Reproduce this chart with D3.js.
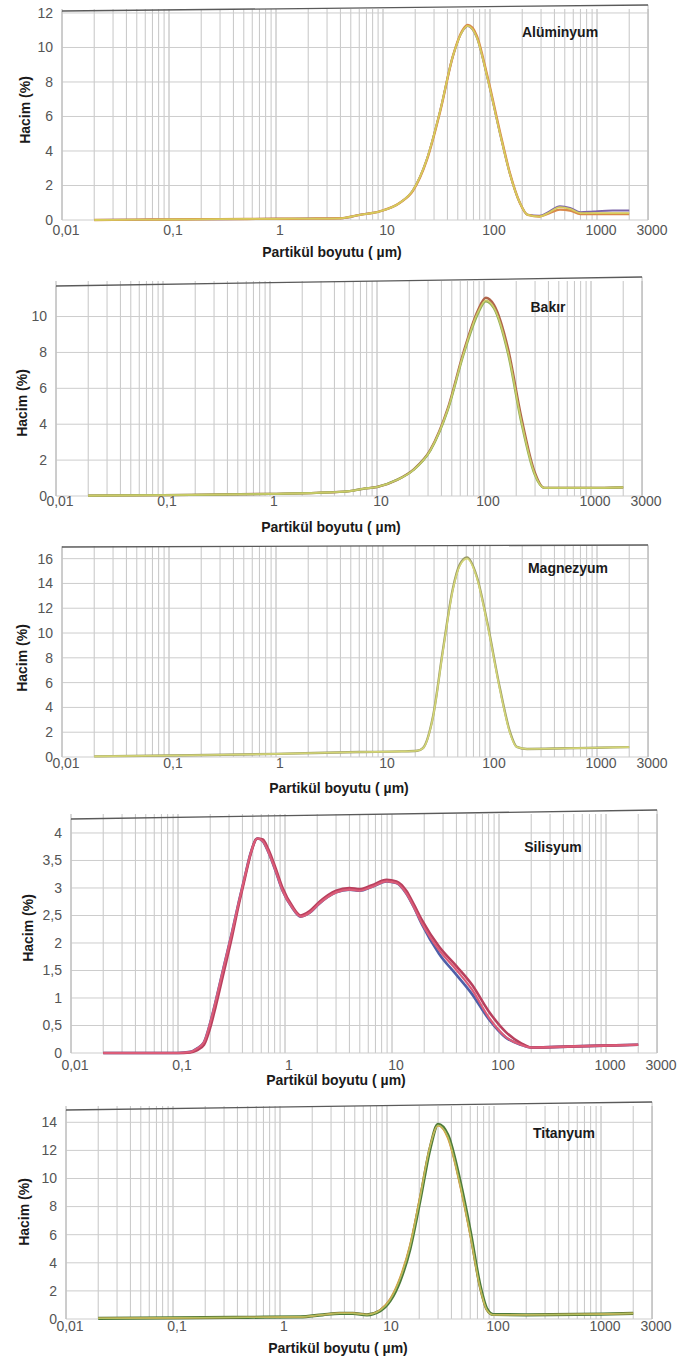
<!DOCTYPE html>
<html>
<head>
<meta charset="utf-8">
<script src="https://cdn.jsdelivr.net/npm/d3@7"></script>
<style>
  body { margin: 0; background: #fff; }
  text { font-family: "Liberation Sans", Arial, sans-serif; }
</style>
</head>
<body>
<svg id="chart" width="677" height="1361"></svg>
<script>
// ---- shared x axis (particle size, µm, log scale) ----
const xTickValues = [0.01, 0.1, 1, 10, 100, 1000, 3000];
const xTickLabels = ["0,01", "0,1", "1", "10", "100", "1000", "3000"];

// ---- Alüminyum ----
const alSizes = [0.02, 0.05, 0.1, 0.3, 1, 2, 4, 6.1, 9.3, 14.4, 19.1, 25.6, 34.4, 45, 56, 62, 75, 94, 124, 153, 190, 225, 290, 360, 450, 560, 700, 930, 1400, 2000];
const alRun1 = [0.0, 0.02, 0.03, 0.05, 0.07, 0.08, 0.1, 0.3, 0.5, 1.0, 1.74, 3.5, 6.4, 9.5, 11.0, 11.25, 10.6, 8.3, 5.0, 2.7, 1.0, 0.3, 0.2, 0.45, 0.75, 0.65, 0.4, 0.4, 0.4, 0.4];
const alRun2 = [0.0, 0.02, 0.03, 0.05, 0.07, 0.08, 0.1, 0.3, 0.5, 1.0, 1.7, 3.45, 6.35, 9.5, 11.05, 11.3, 10.7, 8.4, 5.1, 2.75, 1.0, 0.3, 0.2, 0.4, 0.6, 0.55, 0.35, 0.35, 0.35, 0.35];
const alRun3 = [0.0, 0.02, 0.03, 0.05, 0.07, 0.08, 0.1, 0.3, 0.5, 1.0, 1.74, 3.5, 6.4, 9.5, 11.0, 11.25, 10.6, 8.3, 5.0, 2.7, 1.0, 0.3, 0.25, 0.5, 0.8, 0.7, 0.45, 0.5, 0.55, 0.55];

// ---- Bakır ----
const cuSizes = [0.02, 0.1, 1, 3.6, 6, 7.4, 10, 15.4, 21.9, 31.6, 45.7, 64.6, 87, 104, 124, 168, 223, 295, 367, 500, 1000, 2000];
const cuRun1 = [0.02, 0.05, 0.12, 0.2, 0.3, 0.4, 0.5, 0.9, 1.45, 2.56, 4.8, 7.97, 10.2, 10.9, 10.5, 8.0, 4.2, 1.3, 0.45, 0.45, 0.45, 0.48];
const cuRun2 = [0.02, 0.05, 0.12, 0.2, 0.3, 0.4, 0.5, 0.9, 1.47, 2.58, 4.85, 8.05, 10.3, 11.05, 10.65, 8.2, 4.4, 1.4, 0.45, 0.45, 0.45, 0.48];
const cuRun3 = [0.02, 0.05, 0.12, 0.2, 0.3, 0.4, 0.5, 0.9, 1.45, 2.54, 4.75, 7.9, 10.1, 10.85, 10.45, 7.9, 4.1, 1.25, 0.45, 0.45, 0.45, 0.48];

// ---- Magnezyum ----
const mgSizes = [0.02, 0.1, 1, 6, 15, 20.8, 23.6, 29.3, 36.4, 45, 52, 61, 75, 94, 124, 154, 178, 222, 500, 1000, 2000];
const mgRun1 = [0.05, 0.12, 0.25, 0.4, 0.45, 0.5, 0.7, 3.2, 8.6, 13.5, 15.4, 16.0, 14.5, 10.8, 5.4, 1.9, 0.8, 0.65, 0.7, 0.75, 0.8];
const mgRun2 = [0.05, 0.12, 0.25, 0.4, 0.45, 0.5, 0.72, 3.25, 8.7, 13.6, 15.5, 16.1, 14.6, 10.9, 5.5, 2.0, 0.82, 0.65, 0.7, 0.75, 0.8];

// ---- Silisyum ----
const siSizes = [0.02, 0.05, 0.1, 0.13, 0.15, 0.175, 0.2, 0.226, 0.27, 0.32, 0.37, 0.42, 0.48, 0.55, 0.62, 0.7, 0.82, 0.95, 1.16, 1.4, 1.7, 2.1, 3, 4, 5, 6.5, 8.9, 11, 13.6, 16, 19, 27.6, 40, 56, 80, 116, 160, 200, 500, 2000];
const siRun1 = [0, 0, 0, 0.02, 0.08, 0.2, 0.55, 0.96, 1.6, 2.2, 2.75, 3.2, 3.65, 3.9, 3.85, 3.65, 3.3, 2.95, 2.65, 2.48, 2.55, 2.72, 2.92, 2.97, 2.95, 3.02, 3.12, 3.09, 2.9, 2.65, 2.36, 1.87, 1.51, 1.15, 0.65, 0.29, 0.15, 0.1, 0.12, 0.15];
const siRun2 = [0, 0, 0, 0.01, 0.05, 0.15, 0.46, 0.86, 1.5, 2.12, 2.7, 3.16, 3.63, 3.9, 3.88, 3.7, 3.35, 3.0, 2.68, 2.5, 2.58, 2.75, 2.95, 3.0, 2.98, 3.05, 3.15, 3.12, 2.95, 2.7, 2.42, 1.93, 1.58, 1.24, 0.76, 0.38, 0.18, 0.1, 0.12, 0.15];
const siRun3 = [0, 0, 0, 0.02, 0.08, 0.2, 0.55, 0.96, 1.6, 2.2, 2.75, 3.2, 3.65, 3.9, 3.85, 3.65, 3.3, 2.95, 2.65, 2.48, 2.55, 2.72, 2.92, 2.97, 2.95, 3.02, 3.12, 3.09, 2.9, 2.65, 2.34, 1.8, 1.42, 1.07, 0.62, 0.28, 0.15, 0.1, 0.12, 0.15];

// ---- Titanyum ----
const tiSizes = [0.02, 0.1, 0.5, 1.54, 2.5, 3.6, 4.8, 6.5, 8.6, 10.7, 13.2, 16.4, 20.3, 25.2, 30, 37, 48, 60, 74, 86, 98, 200, 1000, 2000];
const tiRun1 = [0.05, 0.08, 0.12, 0.15, 0.3, 0.4, 0.4, 0.3, 0.6, 1.35, 2.8, 5.1, 8.5, 12.2, 13.8, 13.0, 9.7, 6.1, 2.3, 0.65, 0.3, 0.3, 0.35, 0.4];
const tiRun2 = [0.05, 0.08, 0.12, 0.15, 0.3, 0.42, 0.42, 0.32, 0.65, 1.45, 2.95, 5.3, 8.7, 12.3, 13.75, 12.85, 9.5, 5.9, 2.2, 0.6, 0.3, 0.3, 0.35, 0.4];
const tiRun3 = [0.05, 0.08, 0.12, 0.15, 0.3, 0.4, 0.4, 0.3, 0.58, 1.3, 2.7, 5.0, 8.4, 12.1, 13.85, 13.1, 9.85, 6.25, 2.4, 0.7, 0.32, 0.3, 0.35, 0.4];

// ---- y tick values per panel ----
const alYTicks = [0, 2, 4, 6, 8, 10, 12];
const cuYTicks = [0, 2, 4, 6, 8, 10];
const mgYTicks = [0, 2, 4, 6, 8, 10, 12, 14, 16];
const siYTicks = [0, 0.5, 1, 1.5, 2, 2.5, 3, 3.5, 4];
const tiYTicks = [0, 2, 4, 6, 8, 10, 12, 14];

// ---- panel layout (pixels) ----
const panels = [
  { title: "Alüminyum", sizes: alSizes, yTicks: alYTicks, yMax: 12.23,
    runs: [[alRun3, "#7b64a8", 2], [alRun2, "#d9894a", 2.4], [alRun1, "#d6cb5c", 1.8]],
    left: 62, y0: 220, top: 9, topL: 11, topR: 5,
    titleXY: [560, 32], xLabY: 230, axisTitleXY: [332, 252], hacimXY: [25, 110] },
  { title: "Bakır", sizes: cuSizes, yTicks: cuYTicks, yMax: 11.98,
    runs: [[cuRun2, "#b0644a", 2.4], [cuRun3, "#8fae5a", 2.2], [cuRun1, "#cbcb68", 1.6]],
    left: 56, y0: 496, top: 281, topL: 286, topR: 277,
    titleXY: [548, 307], xLabY: 501, axisTitleXY: [331, 527], hacimXY: [22, 403] },
  { title: "Magnezyum", sizes: mgSizes, yTicks: mgYTicks, yMax: 17.02,
    runs: [[mgRun2, "#9a9a68", 2.4], [mgRun1, "#d4d676", 1.6]],
    left: 62, y0: 757, top: 546, topL: 547, topR: 545,
    titleXY: [568, 568], xLabY: 763, axisTitleXY: [339, 788], hacimXY: [22, 658] },
  { title: "Silisyum", sizes: siSizes, yTicks: siYTicks, yMax: 4.345,
    runs: [[siRun3, "#4f5fa8", 2.6], [siRun2, "#b8405e", 2.6], [siRun1, "#dc5c78", 2.2]],
    left: 71, y0: 1053, top: 814, topL: 819, topR: 810,
    titleXY: [553, 847], xLabY: 1065, axisTitleXY: [336, 1080], hacimXY: [28, 928] },
  { title: "Titanyum", sizes: tiSizes, yTicks: tiYTicks, yMax: 15.16,
    runs: [[tiRun3, "#4d7a3a", 3.2], [tiRun2, "#d8a04a", 1.6], [tiRun1, "#b4c060", 1.2]],
    left: 66, y0: 1319, top: 1106, topL: 1110, topR: 1102,
    titleXY: [564, 1133], xLabY: 1326, axisTitleXY: [338, 1348], hacimXY: [24, 1212] }
];

const DECADE = 107;           // pixels per decade on the size axis
const svg = d3.select("#chart");
const fmt = v => String(v).replace(".", ",");

panels.forEach(p => {
  const right = p.left + DECADE * Math.log10(3000 / 0.01);
  const x = d3.scaleLog().domain([0.01, 3000]).range([p.left, right]);
  const y = d3.scaleLinear().domain([0, p.yMax]).range([p.y0, p.top]);
  const g = svg.append("g");

  // vertical log grid (1..9 per decade)
  const gridVals = [];
  for (let d = 0.01; d < 3000; d *= 10) {
    for (let k = 1; k <= 9; k++) {
      const v = +(k * d).toPrecision(3);
      if (v <= 3000) gridVals.push(v);
    }
  }
  gridVals.push(3000);
  g.append("g").selectAll("line").data(gridVals).join("line")
    .attr("x1", d => x(d)).attr("x2", d => x(d))
    .attr("y1", y(p.yMax)).attr("y2", p.y0)
    .attr("stroke", d => Math.abs(Math.log10(d) - Math.round(Math.log10(d))) < 1e-6 ? "#b4b4b4" : "#c6c6c6")
    .attr("stroke-width", 1);

  // horizontal grid
  g.append("g").selectAll("line").data(p.yTicks).join("line")
    .attr("x1", p.left).attr("x2", right)
    .attr("y1", d => y(d)).attr("y2", d => y(d))
    .attr("stroke", "#cdcdcd").attr("stroke-width", 1);

  // frame: light sides, dark top edge
  g.append("line").attr("x1", p.left).attr("x2", p.left).attr("y1", p.topL).attr("y2", p.y0)
    .attr("stroke", "#c0c0c0");
  g.append("line").attr("x1", right).attr("x2", right).attr("y1", p.topR).attr("y2", p.y0)
    .attr("stroke", "#c0c0c0");
  g.append("line").attr("x1", p.left).attr("x2", right).attr("y1", p.topL).attr("y2", p.topR)
    .attr("stroke", "#5a5a5a").attr("stroke-width", 1.3);

  // y tick labels
  g.append("g").selectAll("text").data(p.yTicks).join("text")
    .attr("x", p.left - 9).attr("y", d => y(d))
    .attr("dy", "0.35em").attr("text-anchor", "end")
    .attr("font-size", 14).attr("fill", "#555")
    .text(fmt);

  // x tick labels
  g.append("g").selectAll("text").data(xTickValues).join("text")
    .attr("x", d => x(d) + 4).attr("y", p.xLabY)
    .attr("dy", "0.35em").attr("text-anchor", "middle")
    .attr("font-size", 14).attr("fill", "#555")
    .text((d, i) => xTickLabels[i]);

  // measurement runs
  const line = d3.line()
    .x(d => x(d[0])).y(d => y(d[1]))
    .curve(d3.curveMonotoneX);
  p.runs.forEach(([vals, color, w]) => {
    g.append("path")
      .datum(p.sizes.map((s, i) => [s, vals[i]]))
      .attr("d", line)
      .attr("fill", "none")
      .attr("stroke", color)
      .attr("stroke-width", w)
      .attr("stroke-linejoin", "round");
  });

  // panel title
  g.append("text").attr("x", p.titleXY[0]).attr("y", p.titleXY[1])
    .attr("dy", "0.35em").attr("text-anchor", "middle")
    .attr("font-size", 14).attr("font-weight", "bold").attr("fill", "#1a1a1a")
    .text(p.title);

  // axis titles
  g.append("text").attr("x", p.axisTitleXY[0]).attr("y", p.axisTitleXY[1])
    .attr("dy", "0.35em").attr("text-anchor", "middle")
    .attr("font-size", 14).attr("font-weight", "bold").attr("fill", "#1a1a1a")
    .text("Partikül boyutu ( µm)");
  g.append("text")
    .attr("transform", `translate(${p.hacimXY[0]},${p.hacimXY[1]}) rotate(-90)`)
    .attr("dy", "0.35em").attr("text-anchor", "middle")
    .attr("font-size", 14).attr("font-weight", "bold").attr("fill", "#1a1a1a")
    .text("Hacim (%)");
});
</script>
</body>
</html>
